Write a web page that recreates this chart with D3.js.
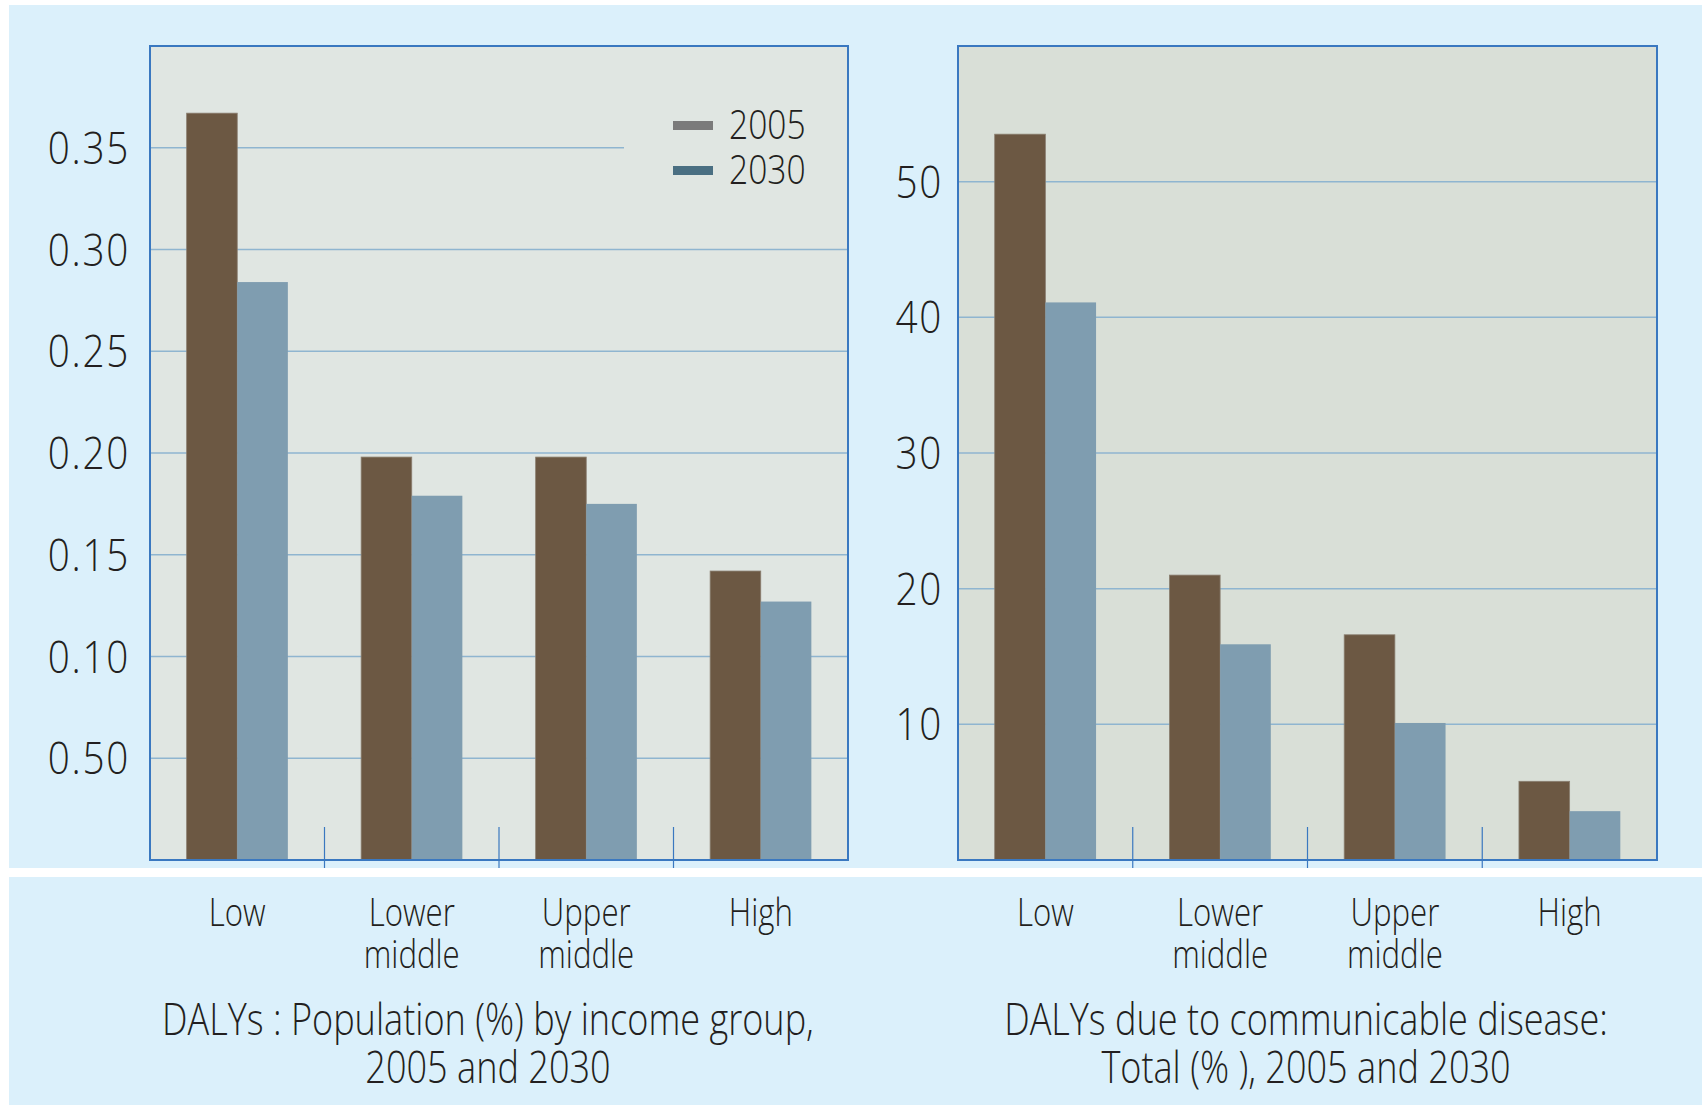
<!DOCTYPE html>
<html>
<head>
<meta charset="utf-8">
<script src="https://cdn.jsdelivr.net/npm/d3@7"></script>
<style>
  html, body { margin: 0; padding: 0; background: #ffffff; }
  svg { display: block; }
  text { font-family: "Open Sans", sans-serif; font-weight: 300; fill: #231f20; }
</style>
</head>
<body>
<div id="chart"></div>
<script>
let categories = [["Low"], ["Lower", "middle"], ["Upper", "middle"], ["High"]];
let catKeys = ["Low", "Lower middle", "Upper middle", "High"];
let years = ["2005", "2030"];

// left panel: DALYs, population share
let popValues2005 = [0.367, 0.198, 0.198, 0.142];
let popValues2030 = [0.284, 0.179, 0.175, 0.127];
let popTicks = [0.05, 0.10, 0.15, 0.20, 0.25, 0.30, 0.35];
let popTickLabels = ["0.50", "0.10", "0.15", "0.20", "0.25", "0.30", "0.35"];
let popTitle = ["DALYs : Population (%) by income group,", "2005 and 2030"];

// right panel: communicable disease share
let comValues2005 = [53.5, 21.0, 16.6, 5.8];
let comValues2030 = [41.1, 15.9, 10.1, 3.6];
let comTicks = [10, 20, 30, 40, 50];
let comTickLabels = ["10", "20", "30", "40", "50"];
let comTitle = ["DALYs due to communicable disease:", "Total (% ), 2005 and 2030"];

let width = 1702, height = 1108;
let barColors = ["#6c5843", "#7f9db0"];
let legendColors = ["#7b7b7b", "#4a6f82"];

var svg = d3.select("#chart").append("svg")
    .attr("width", width)
    .attr("height", height);

// page background
svg.append("rect").attr("x", 9).attr("y", 5).attr("width", width - 9).attr("height", 863).attr("fill", "#dbf0fb");
svg.append("rect").attr("x", 9).attr("y", 877).attr("width", width - 9).attr("height", 228).attr("fill", "#dbf0fb");

function squeezedText(g, x, y, str, size, anchor, sx) {
    return g.append("text")
        .attr("transform", `translate(${x},${y}) scale(${sx},1)`)
        .attr("text-anchor", anchor)
        .style("font-size", size + "px")
        .text(str);
}

function panel(opts) {
    let g = svg.append("g");
    let x = d3.scaleBand().domain(catKeys).range([opts.left, opts.right]);
    let x1 = d3.scaleBand().domain(years)
        .range([x.bandwidth() * 0.21, x.bandwidth() * 0.79]);
    let y = d3.scaleLinear().domain([0, opts.max]).range([860, 46]);

    g.append("rect")
        .attr("x", opts.left).attr("y", y(opts.max))
        .attr("width", opts.right - opts.left).attr("height", y(0) - y(opts.max))
        .attr("fill", opts.bg);

    g.selectAll("line.grid")
        .data(opts.ticks)
        .join("line")
        .attr("class", "grid")
        .attr("x1", opts.left)
        .attr("x2", (d, i) => opts.gridStop && i === opts.ticks.length - 1 ? opts.gridStop : opts.right)
        .attr("y1", d => y(d)).attr("y2", d => y(d))
        .attr("stroke", "#8fb5d0")
        .attr("stroke-width", 1.5);

    let rows = catKeys.map((c, i) => ({ key: c, vals: [opts.v2005[i], opts.v2030[i]] }));
    g.selectAll("g.cat")
        .data(rows)
        .join("g")
        .attr("transform", d => `translate(${x(d.key)},0)`)
        .selectAll("rect")
        .data(d => d.vals.map((v, i) => ({ year: years[i], v: v, i: i })))
        .join("rect")
        .attr("x", d => x1(d.year))
        .attr("width", x1.bandwidth())
        .attr("y", d => y(d.v))
        .attr("height", d => y(0) - y(d.v))
        .attr("fill", d => barColors[d.i])
        .attr("stroke", d => d.i === 0 ? "#8a7f70" : "none")
        .attr("stroke-width", 0.8);

    // frame
    g.append("rect")
        .attr("x", opts.left).attr("y", y(opts.max))
        .attr("width", opts.right - opts.left).attr("height", y(0) - y(opts.max))
        .attr("fill", "none")
        .attr("stroke", "#3a78c0")
        .attr("stroke-width", 2);

    // category separators
    g.selectAll("line.sep")
        .data(catKeys.slice(1))
        .join("line")
        .attr("x1", d => x(d)).attr("x2", d => x(d))
        .attr("y1", 827).attr("y2", 868)
        .attr("stroke", "#3a78c0")
        .attr("stroke-width", 1.2);

    // y tick labels
    opts.ticks.forEach((t, i) => {
        squeezedText(g, opts.left - opts.tickGap, y(t) + 16, opts.tickLabels[i], 45, "end", 0.86)
            .style("letter-spacing", "2px");
    });

    // category labels
    categories.forEach((lines, i) => {
        let cx = x(catKeys[i]) + x.bandwidth() / 2;
        lines.forEach((s, j) => squeezedText(g, cx, 926 + j * 42, s, 39, "middle", 0.8));
    });

    opts.title.forEach((s, j) => squeezedText(g, opts.titleX, 1035 + j * 48, s, 44, "middle", 0.82));
    return g;
}

panel({
    left: 150, right: 848, max: 0.4, bg: "#e0e6e2",
    ticks: popTicks, tickLabels: popTickLabels, tickGap: 20,
    v2005: popValues2005, v2030: popValues2030,
    gridStop: 624, title: popTitle, titleX: 488
});

panel({
    left: 958, right: 1657, max: 60, bg: "#d9dfd7",
    ticks: comTicks, tickLabels: comTickLabels, tickGap: 15,
    v2005: comValues2005, v2030: comValues2030,
    title: comTitle, titleX: 1306
});

// legend
let legend = svg.append("g");
years.forEach((yr, i) => {
    legend.append("rect")
        .attr("x", 673).attr("y", 121 + i * 45)
        .attr("width", 40).attr("height", 9)
        .attr("fill", legendColors[i]);
    squeezedText(legend, 729, 139 + i * 45, yr, 40, "start", 0.84);
});
</script>
</body>
</html>
